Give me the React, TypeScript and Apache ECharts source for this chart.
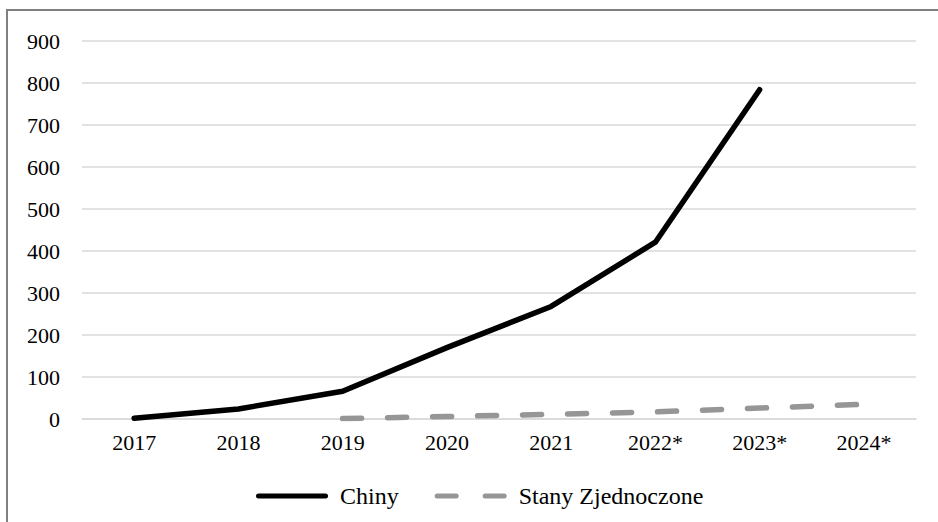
import React, { useEffect, useRef } from "react";
import * as echarts from "echarts";

const years = ["2017", "2018", "2019", "2020", "2021", "2022*", "2023*", "2024*"];
const china = [2, 24, 66, 170, 268, 421, 784, null];
const usa = [null, null, 1, 6, 11, 17, 26, 35];
const yTicks = { min: 0, max: 900, interval: 100 };

const FONT = "'Liberation Serif', serif";

const solidIcon = "path://M2.5,0 H69.5 A2.5,2.5 0 0 1 69.5,5 H2.5 A2.5,2.5 0 0 1 2.5,0 Z";
const dashIcon =
  "path://M2.5,0 H21.5 A2.5,2.5 0 0 1 21.5,5 H2.5 A2.5,2.5 0 0 1 2.5,0 Z M50.5,0 H69.5 A2.5,2.5 0 0 1 69.5,5 H50.5 A2.5,2.5 0 0 1 50.5,0 Z";

export default function App() {
  const ref = useRef<HTMLDivElement>(null);
  useEffect(() => {
    if (!ref.current) return;
    const chart = echarts.init(ref.current, undefined, { renderer: "svg" });
    chart.setOption({
      animation: false,
      backgroundColor: "#ffffff",
      textStyle: { fontFamily: FONT },
      graphic: [
        {
          type: "rect",
          shape: { x: 7, y: 10, width: 1200, height: 1200 },
          style: { fill: "none", stroke: "#808080", lineWidth: 2 },
          silent: true,
        },
      ],
      grid: { left: 82, right: 22, top: 41, bottom: 103, containLabel: false },
      legend: {
        bottom: 14,
        left: 256,
        padding: 0,
        itemWidth: 72,
        itemHeight: 5,
        itemGap: 36,
        textStyle: { fontFamily: FONT, fontSize: 24, color: "#000", padding: [0, 0, 0, 7] },
        data: [
          { name: "Chiny", icon: solidIcon },
          { name: "Stany Zjednoczone", icon: dashIcon },
        ],
      },
      xAxis: {
        type: "category",
        data: years,
        boundaryGap: true,
        axisLine: { lineStyle: { color: "#d9d9d9", width: 1.5 } },
        axisTick: { show: false },
        axisLabel: { fontFamily: FONT, fontSize: 22, color: "#000", margin: 12 },
      },
      yAxis: {
        type: "value",
        min: yTicks.min,
        max: yTicks.max,
        interval: yTicks.interval,
        axisLine: { show: false },
        axisTick: { show: false },
        axisLabel: { fontFamily: FONT, fontSize: 22, color: "#000", margin: 22 },
        splitLine: { lineStyle: { color: "#d9d9d9", width: 1.5 } },
      },
      series: [
        {
          name: "Chiny",
          type: "line",
          data: china,
          symbol: "none",
          color: "#000000",
          lineStyle: { color: "#000000", width: 5.5, cap: "round", join: "round" },
        },
        {
          name: "Stany Zjednoczone",
          type: "line",
          data: usa,
          symbol: "none",
          color: "#969696",
          lineStyle: { color: "#969696", width: 5.5, type: [19, 26], cap: "round", join: "round" },
        },
      ],
    });
    return () => chart.dispose();
  }, []);
  return (
    <div
      ref={ref}
      style={{ position: "fixed", left: 0, top: 0, width: 938, height: 522 }}
    />
  );
}
